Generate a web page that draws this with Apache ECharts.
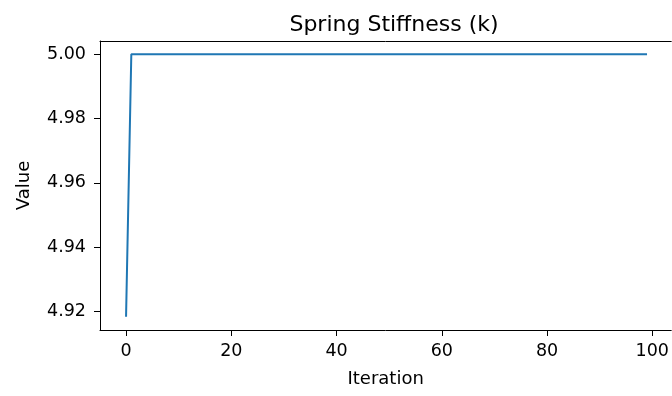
<!DOCTYPE html>
<html>
<head>
<meta charset="utf-8">
<script src="https://cdn.jsdelivr.net/npm/echarts@6/dist/echarts.min.js"></script>
<style>
html,body{margin:0;padding:0;background:#fff;}
#c{width:672px;height:396px;}
</style>
</head>
<body>
<div id="c"></div>
<script>
var chartTitle = "Spring Stiffness (k)";
var xLabel = "Iteration";
var yLabel = "Value";
var xTicks = [0, 20, 40, 60, 80, 100];
var yTicks = [4.92, 4.94, 4.96, 4.98, 5.00];
var stiffness = [
  4.9184, 5.00, 5.00, 5.00, 5.00, 5.00, 5.00, 5.00, 5.00, 5.00,
  5.00, 5.00, 5.00, 5.00, 5.00, 5.00, 5.00, 5.00, 5.00, 5.00,
  5.00, 5.00, 5.00, 5.00, 5.00, 5.00, 5.00, 5.00, 5.00, 5.00,
  5.00, 5.00, 5.00, 5.00, 5.00, 5.00, 5.00, 5.00, 5.00, 5.00,
  5.00, 5.00, 5.00, 5.00, 5.00, 5.00, 5.00, 5.00, 5.00, 5.00,
  5.00, 5.00, 5.00, 5.00, 5.00, 5.00, 5.00, 5.00, 5.00, 5.00,
  5.00, 5.00, 5.00, 5.00, 5.00, 5.00, 5.00, 5.00, 5.00, 5.00,
  5.00, 5.00, 5.00, 5.00, 5.00, 5.00, 5.00, 5.00, 5.00, 5.00,
  5.00, 5.00, 5.00, 5.00, 5.00, 5.00, 5.00, 5.00, 5.00, 5.00,
  5.00, 5.00, 5.00, 5.00, 5.00, 5.00, 5.00, 5.00, 5.00, 5.00
];

var font = 'DejaVu Sans';
var chart = echarts.init(document.getElementById('c'), null, {renderer: 'canvas'});
var points = stiffness.map(function (v, i) { return [i, v]; });
var xMin = -4.95, xMax = 103.6;

chart.setOption({
  animation: false,
  backgroundColor: '#ffffff',
  title: {
    text: chartTitle,
    left: 389, top: 9, textAlign: 'center',
    textStyle: {fontFamily: font, fontSize: 22, fontWeight: 'normal', color: '#000'}
  },
  grid: {left: 100, right: 0, top: 41, bottom: 66, containLabel: false},
  xAxis: [{
    type: 'value',
    position: 'bottom',
    min: xMin, max: xMax,
    name: xLabel, nameLocation: 'middle', nameGap: 40,
    nameTextStyle: {fontFamily: font, fontSize: 18, color: '#000'},
    axisLine: {show: true, onZero: false, lineStyle: {color: '#000', width: 1}},
    axisTick: {show: true, length: 6, customValues: xTicks, lineStyle: {color: '#000', width: 1}},
    axisLabel: {customValues: xTicks, fontFamily: font, fontSize: 17.5, color: '#000', margin: 12,
      formatter: function (v) { return String(Math.round(v)); }},
    splitLine: {show: false}
  }, {
    type: 'value',
    position: 'top',
    min: xMin, max: xMax,
    axisLine: {show: true, onZero: false, lineStyle: {color: '#000', width: 1}},
    axisTick: {show: false},
    axisLabel: {show: false},
    splitLine: {show: false}
  }],
  yAxis: {
    type: 'value',
    min: 4.9143, max: 5.0041,
    name: yLabel, nameLocation: 'middle', nameGap: 67, nameRotate: 90,
    nameTextStyle: {fontFamily: font, fontSize: 18, color: '#000'},
    axisLine: {show: true, onZero: false, lineStyle: {color: '#000', width: 1}},
    axisTick: {show: true, length: 6, customValues: yTicks, lineStyle: {color: '#000', width: 1}},
    axisLabel: {customValues: yTicks, fontFamily: font, fontSize: 17.5, color: '#000', margin: 14,
      formatter: function (v) { return v.toFixed(2); }},
    splitLine: {show: false}
  },
  series: [{
    type: 'line',
    xAxisIndex: 0,
    data: points,
    showSymbol: false,
    symbol: 'none',
    lineStyle: {color: '#1f77b4', width: 2},
    itemStyle: {color: '#1f77b4'}
  }]
});
</script>
</body>
</html>
